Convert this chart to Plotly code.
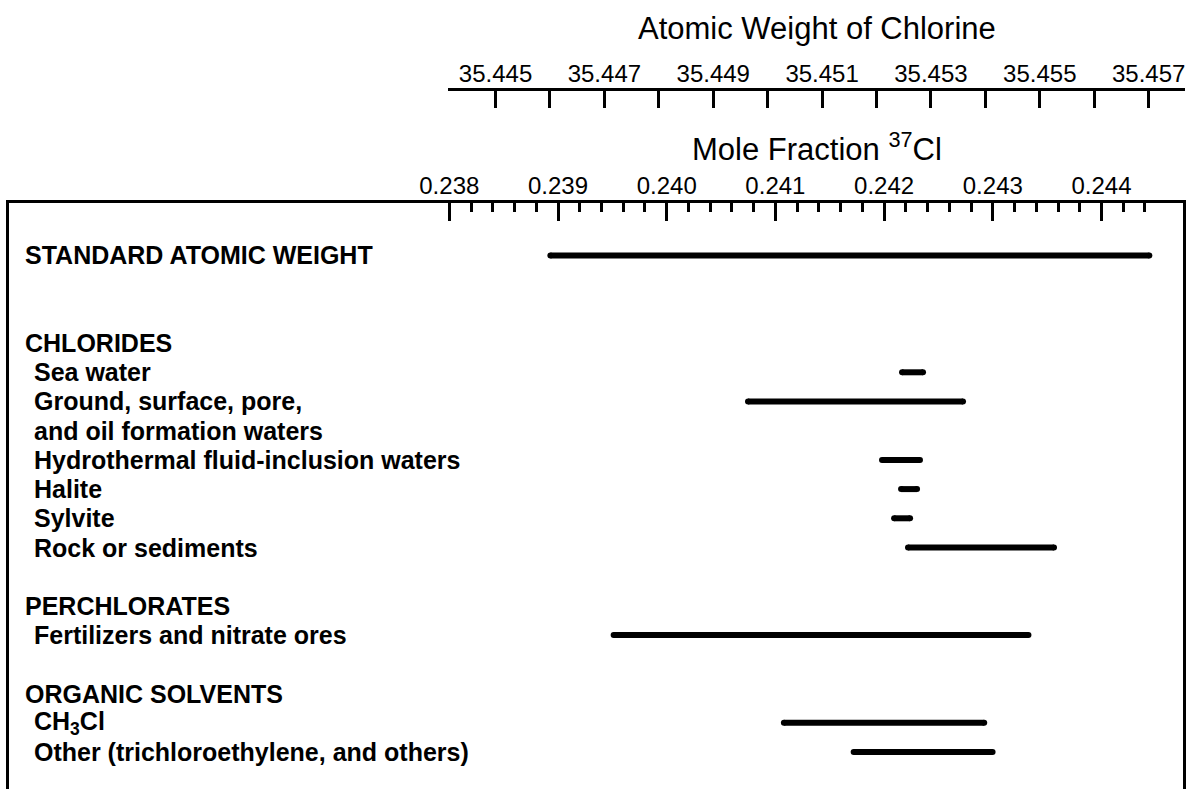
import plotly.graph_objects as go

# ---------------- data ----------------
labels = [
    "STANDARD ATOMIC WEIGHT", "", "",
    "CHLORIDES",
    "Sea water",
    "Ground, surface, pore,",
    "and oil formation waters",
    "Hydrothermal fluid-inclusion waters",
    "Halite",
    "Sylvite",
    "Rock or sediments",
    "",
    "PERCHLORATES",
    "Fertilizers and nitrate ores",
    "",
    "ORGANIC SOLVENTS",
    "CH<sub>3</sub>Cl",
    "Other (trichloroethylene, and others)",
]
is_header = [True, False, False, True, False, False, False, False, False, False, False,
             False, True, False, False, True, False, False]
# mole fraction 37Cl ranges (low, high); None = no bar on that row
low = [0.23893, None, None, None, 0.242165, 0.240748, None, 0.241981, 0.242156,
       0.242092, 0.242220, None, None, 0.239512, None, None, 0.241078, 0.241720]
high = [0.24444, None, None, None, 0.242358, 0.242726, None, 0.242330, 0.242303,
        0.242239, 0.243563, None, None, 0.243328, None, None, 0.242921, 0.242998]

mf_major = [0.238, 0.239, 0.240, 0.241, 0.242, 0.243, 0.244]
mf_labels = ["0.238", "0.239", "0.240", "0.241", "0.242", "0.243", "0.244"]
aw_major = [35.445, 35.447, 35.449, 35.451, 35.453, 35.455, 35.457]
aw_labels = ["35.445", "35.447", "35.449", "35.451", "35.453", "35.455", "35.457"]
aw_minor = [35.446, 35.448, 35.450, 35.452, 35.454, 35.456]

M35 = 34.968853
M37 = 36.965903


def aw_to_mf(aw):
    return (aw - M35) / (M37 - M35)


mf_minor = [round(0.238 + i * 0.0002, 4) for i in range(33)]
mf_minor = [v for v in mf_minor if all(abs(v - m) > 1e-7 for m in mf_major)]

# ---------------- layout geometry ----------------
W, H = 1187, 789
L_M, R_M = 9, 2
PX_PER = 108700.0  # pixels per unit mole fraction
X0_PX = 449.3      # pixel of 0.238
plot_w = W - L_M - R_M
box_right_px = 1183
x_lo = 0.238 - (X0_PX - L_M) / PX_PER
x_hi = 0.238 + (box_right_px - X0_PX) / PX_PER
x_dom_hi = (box_right_px - L_M) / plot_w

aw_left_px = 448
x2_lo = 0.238 - (X0_PX - aw_left_px) / PX_PER
x2_hi = 0.238 + (W - R_M - X0_PX) / PX_PER
x2_dom_lo = (aw_left_px - L_M) / plot_w

box_top_px = 203
row0_px = 255.5
row_step = 29.2
y_top = -(row0_px - box_top_px) / row_step
y_bot = (H - row0_px) / row_step

FONT = "Liberation Sans, Arial, Helvetica, sans-serif"

fig = go.Figure()

# bars
bx, by = [], []
for i, (lo, hi) in enumerate(zip(low, high)):
    if lo is None:
        continue
    bx += [lo, hi, None]
    by += [i, i, None]
fig.add_trace(go.Scatter(
    x=bx, y=by, mode="lines+markers",
    line=dict(color="black", width=6),
    marker=dict(color="black", size=6, symbol="circle", line=dict(width=0)),
    showlegend=False, hoverinfo="skip",
))

# invisible trace to carry the atomic-weight axis
fig.add_trace(go.Scatter(x=[None], y=[None], xaxis="x2", yaxis="y2",
                         showlegend=False, hoverinfo="skip"))

# row labels
for i, (t, hd) in enumerate(zip(labels, is_header)):
    if not t:
        continue
    fig.add_annotation(
        x=(23 - L_M) / plot_w if hd else (32 - L_M) / plot_w,
        xref="paper", y=i, yref="y",
        text=f"<b>{t}</b>", showarrow=False,
        xanchor="left", yanchor="middle",
        font=dict(family=FONT, size=25, color="black"),
    )

# axis titles
fig.add_annotation(
    x=0.5, xref="x2 domain", y=1 - 28 / H, yref="paper",
    text="Atomic Weight of Chlorine", showarrow=False,
    xanchor="center", yanchor="middle",
    font=dict(family=FONT, size=31, color="black"),
)
fig.add_annotation(
    x=0.5, xref="x2 domain", y=1 - 147 / H, yref="paper",
    text="Mole Fraction <sup>37</sup>Cl", showarrow=False,
    xanchor="center", yanchor="middle",
    font=dict(family=FONT, size=31, color="black"),
)

fig.update_layout(
    width=W, height=H,
    margin=dict(l=L_M, r=R_M, t=0, b=0, pad=0),
    paper_bgcolor="white", plot_bgcolor="white",
    showlegend=False,
    xaxis=dict(
        domain=[0, x_dom_hi], range=[x_lo, x_hi], side="top",
        showline=True, linecolor="black", linewidth=2.5, mirror=False,
        showgrid=False, zeroline=False,
        tickmode="array", tickvals=mf_major, ticktext=mf_labels,
        ticks="inside", ticklen=18, tickwidth=2.5, tickcolor="black",
        tickfont=dict(family=FONT, size=24, color="black"),
        ticklabelstandoff=-3,
        minor=dict(tickmode="array", tickvals=mf_minor, ticks="inside",
                   ticklen=9, tickwidth=2.5, tickcolor="black", showgrid=False),
        fixedrange=True,
    ),
    xaxis2=dict(
        domain=[x2_dom_lo, 1], range=[x2_lo, x2_hi], side="top",
        anchor="free", position=1 - 89 / H,
        showline=True, linecolor="black", linewidth=2.5,
        showgrid=False, zeroline=False,
        tickmode="array", tickvals=[aw_to_mf(a) for a in aw_major], ticktext=aw_labels,
        ticks="inside", ticklen=17, tickwidth=2.5, tickcolor="black",
        tickfont=dict(family=FONT, size=24, color="black"),
        ticklabelstandoff=-3,
        minor=dict(tickmode="array", tickvals=[aw_to_mf(a) for a in aw_minor],
                   ticks="inside", ticklen=17, tickwidth=2.5, tickcolor="black",
                   showgrid=False),
        fixedrange=True,
    ),
    yaxis=dict(
        domain=[0, 1 - box_top_px / H], range=[y_bot, y_top],
        showline=True, linecolor="black", linewidth=2.5, mirror=True,
        showgrid=False, zeroline=False, showticklabels=False, ticks="",
        fixedrange=True,
    ),
    yaxis2=dict(
        domain=[0.95, 1], anchor="x2", visible=False, fixedrange=True,
    ),
)

fig.write_html(
    "out.html",
    config={"displayModeBar": False},
    post_script="document.body.style.margin='0';document.body.style.overflow='hidden';",
)
